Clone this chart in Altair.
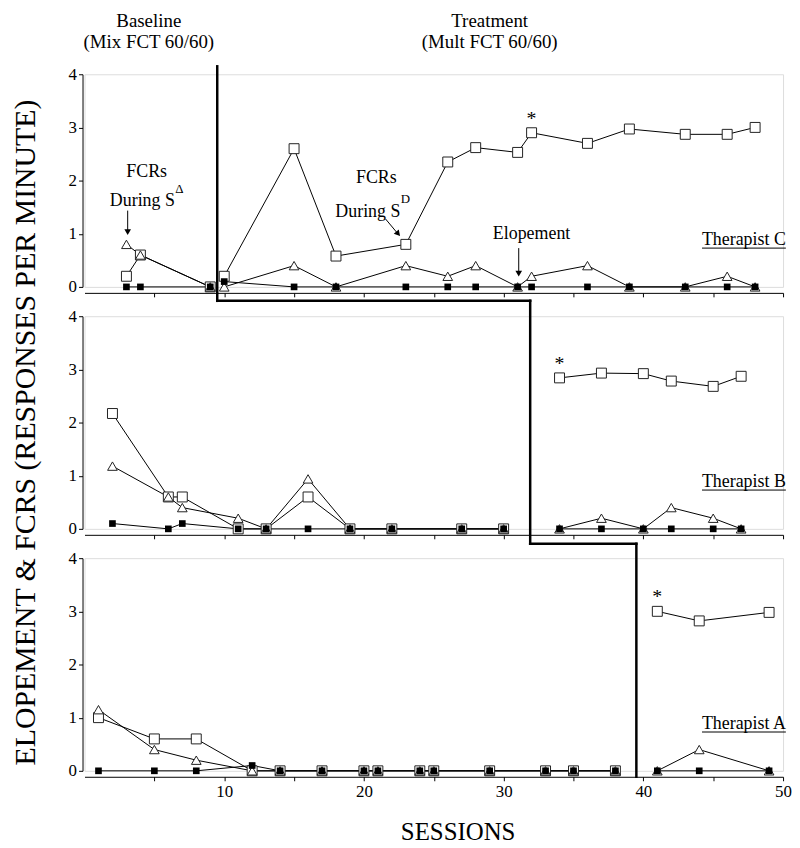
import altair as alt
import pandas as pd

# ---------------- data ----------------
# Therapist C
C_base_sessions = [3, 4, 9]
C_base_sd = [0.2, 0.6, 0.0]
C_base_sdelta = [0.8, 0.6, 0.0]
C_base_elope = [0.0, 0.0, 0.0]
C_treat_sessions = [10, 15, 18, 23, 26, 28, 31, 32, 36, 39, 43, 46, 48]
C_treat_sd = [0.2, 2.6, 0.58, 0.8, 2.35, 2.62, 2.53, 2.9, 2.7, 2.97, 2.87, 2.87, 3.0]
C_treat_sdelta = [0.0, 0.4, 0.0, 0.4, 0.2, 0.4, 0.0, 0.2, 0.4, 0.0, 0.0, 0.2, 0.0]
C_treat_elope = [0.1, 0.0, 0.0, 0.0, 0.0, 0.0, 0.0, 0.0, 0.0, 0.0, 0.0, 0.0, 0.0]

# Therapist B
B_base_sessions = [2, 6, 7, 11, 13, 16, 19, 22, 27, 30]
B_base_sd = [2.17, 0.6, 0.6, 0.0, 0.0, 0.6, 0.0, 0.0, 0.0, 0.0]
B_base_sdelta = [1.18, 0.6, 0.4, 0.2, 0.0, 0.94, 0.0, 0.0, 0.0, 0.0]
B_base_elope = [0.1, 0.0, 0.1, 0.0, 0.0, 0.0, 0.0, 0.0, 0.0, 0.0]
B_treat_sessions = [34, 37, 40, 42, 45, 47]
B_treat_sd = [2.84, 2.93, 2.92, 2.78, 2.68, 2.87]
B_treat_sdelta = [0.0, 0.2, 0.0, 0.4, 0.2, 0.0]
B_treat_elope = [0.0, 0.0, 0.0, 0.0, 0.0, 0.0]

# Therapist A
A_base_sessions = [1, 5, 8, 12, 14, 17, 20, 21, 24, 25, 29, 33, 35, 38]
A_base_sd = [1.0, 0.6, 0.6, 0.0, 0.0, 0.0, 0.0, 0.0, 0.0, 0.0, 0.0, 0.0, 0.0, 0.0]
A_base_sdelta = [1.15, 0.4, 0.2, 0.0, 0.0, 0.0, 0.0, 0.0, 0.0, 0.0, 0.0, 0.0, 0.0, 0.0]
A_base_elope = [0.0, 0.0, 0.0, 0.1, 0.0, 0.0, 0.0, 0.0, 0.0, 0.0, 0.0, 0.0, 0.0, 0.0]
A_treat_sessions = [41, 44, 49]
A_treat_sd = [3.0, 2.82, 2.98]
A_treat_sdelta = [0.0, 0.4, 0.0]
A_treat_elope = [0.0, 0.0, 0.0]

phase_change = {"C": 9.5, "B": 31.9, "A": 39.5}
first_treat_point = {"C": (32, 2.9), "B": (34, 2.84), "A": (41, 3.0)}
therapist_names = {"C": "Therapist C", "B": "Therapist B", "A": "Therapist A"}

tables = {
    "C": [("base", C_base_sessions, C_base_sd, C_base_sdelta, C_base_elope),
          ("treat", C_treat_sessions, C_treat_sd, C_treat_sdelta, C_treat_elope)],
    "B": [("base", B_base_sessions, B_base_sd, B_base_sdelta, B_base_elope),
          ("treat", B_treat_sessions, B_treat_sd, B_treat_sdelta, B_treat_elope)],
    "A": [("base", A_base_sessions, A_base_sd, A_base_sdelta, A_base_elope),
          ("treat", A_treat_sessions, A_treat_sd, A_treat_sdelta, A_treat_elope)],
}

rows = []
for t, phases in tables.items():
    for ph, ss, sd, sdel, el in phases:
        for series, vals in (("sd", sd), ("sdelta", sdel), ("elope", el)):
            for s, v in zip(ss, vals):
                rows.append({"therapist": t, "phase": ph, "series": series,
                             "seg": series + "_" + ph, "session": s, "value": v})
df = pd.DataFrame(rows)

# ---------------- styling ----------------
FONT = "Liberation Serif"
W, H, GAP = 703, 214, 29.5

xscale = alt.Scale(domain=[0, 50], nice=False, zero=False)
yscale = alt.Scale(domain=[0, 4], nice=False)

yaxis = alt.Axis(values=[0, 1, 2, 3, 4], title=None, grid=False, offset=2, tickSize=4,
                 labelPadding=2, labelFont=FONT, labelFontSize=17, labelColor="black",
                 domainColor="black", tickColor="black")


def xaxis(show_labels):
    return alt.Axis(values=list(range(5, 51, 5)), labels=show_labels,
                    labelExpr="datum.value % 10 == 0 ? datum.label : ''",
                    title=None, grid=False, offset=6, tickSize=4, labelPadding=3,
                    labelFont=FONT, labelFontSize=17, labelColor="black",
                    domainColor="black", tickColor="black", labelFlush=False)


def panel(t, bottom, top_ext, bot_ext, next_phase):
    X = alt.X("session:Q", scale=xscale, axis=xaxis(bottom))
    Y = alt.Y("value:Q", scale=yscale, axis=yaxis)
    base = alt.Chart(df[df.therapist == t])

    lines = base.mark_line(color="black", strokeWidth=1).encode(x=X, y=Y, detail="seg:N")
    sq = base.transform_filter("datum.series == 'sd'").mark_point(
        shape="square", filled=True, fill="white", stroke="#222", strokeWidth=1,
        size=100, opacity=1).encode(x=X, y=Y)
    tri = base.transform_filter("datum.series == 'sdelta'").mark_point(
        shape="triangle-up", filled=True, fill="white", stroke="#222", strokeWidth=1,
        size=95, opacity=1).encode(x=X, y=Y)
    el = base.transform_filter("datum.series == 'elope'").mark_point(
        shape="square", filled=True, color="black", size=45, opacity=1).encode(x=X, y=Y)

    layers = [lines, sq, tri, el]

    # phase-change line
    ph = phase_change[t]
    layers.append(alt.Chart(pd.DataFrame({"session": [ph]})).mark_rule(
        color="black", strokeWidth=2.5, strokeCap="square").encode(
        x=X, y=alt.value(top_ext), y2=alt.value(H + bot_ext)))
    if next_phase is not None:
        layers.append(alt.Chart(pd.DataFrame({"session": [ph], "session2": [next_phase]})).mark_rule(
            color="black", strokeWidth=2.5, strokeCap="square").encode(
            x=X, x2="session2:Q", y=alt.value(H + bot_ext)))

    # therapist label with underline
    layers.append(alt.Chart(pd.DataFrame({"session": [50.2], "value": [0.78],
                                          "label": [therapist_names[t]]})).mark_text(
        font=FONT, fontSize=18, align="right", baseline="alphabetic", color="black").encode(
        x=X, y=Y, text="label:N"))
    layers.append(alt.Chart(pd.DataFrame({"session": [44.2], "session2": [50.2],
                                          "value": [0.73]})).mark_rule(
        color="black", strokeWidth=1).encode(x=X, x2="session2:Q", y=Y))

    # asterisk above first treatment point
    s0, v0 = first_treat_point[t]
    layers.append(alt.Chart(pd.DataFrame({"session": [s0], "value": [v0], "label": ["*"]})).mark_text(
        font=FONT, fontSize=20, align="center", baseline="alphabetic", color="black", dy=-8).encode(
        x=X, y=Y, text="label:N"))

    return layers, X, Y


# ---- Therapist C panel (top) ----
layersC, XC, YC = panel("C", False, -8, 14, phase_change["B"])

ann_text = pd.DataFrame({
    "session": [4.45, 6.47, 20.89, 22.61, 32.0],
    "value": [2.06, 1.53, 1.95, 1.31, 0.906],
    "label": ["FCRs", "During S", "FCRs", "During S", "Elopement"],
    "align": ["center", "right", "center", "right", "center"],
})
for al in ("center", "right"):
    sub = ann_text[ann_text["align"] == al]
    layersC.append(alt.Chart(sub).mark_text(font=FONT, fontSize=18, align=al,
                                            baseline="alphabetic", color="black").encode(
        x=XC, y=YC, text="label:N"))
sup_text = pd.DataFrame({"session": [6.5, 22.63], "value": [1.76, 1.58], "label": ["Δ", "D"]})
layersC.append(alt.Chart(sup_text).mark_text(font=FONT, fontSize=13, align="left",
                                             baseline="alphabetic", color="black").encode(
    x=XC, y=YC, text="label:N"))

# arrows: shafts + heads
arrow_shafts = pd.DataFrame({"session": [3.09, 21.54, 31.08], "value": [1.435, 1.28, 0.73],
                             "session2": [3.09, 22.4, 31.08], "value2": [1.04, 1.01, 0.25]})
layersC.append(alt.Chart(arrow_shafts).mark_rule(color="black", strokeWidth=1).encode(
    x=XC, y=YC, x2="session2:Q", y2="value2:Q"))
arrow_heads = pd.DataFrame({"session": [3.09, 22.45, 31.08], "value": [1.03, 1.0, 0.25],
                            "ang": [0, 319, 0]})
layersC.append(alt.Chart(arrow_heads).mark_point(shape="triangle-down", filled=True, color="black",
                                                 size=45, opacity=1).encode(
    x=XC, y=YC, angle=alt.Angle("ang:Q", scale=None)))

# phase titles above
phase_titles = pd.DataFrame({"session": [4.6, 4.6, 29.0, 29.0],
                             "line": [1, 2, 1, 2],
                             "label": ["Baseline", "(Mix FCT 60/60)", "Treatment", "(Mult FCT 60/60)"]})
layersC.append(alt.Chart(phase_titles[phase_titles.line == 1]).mark_text(
    font=FONT, fontSize=19, align="center", baseline="alphabetic", color="black").encode(
    x=XC, y=alt.value(-48), text="label:N"))
layersC.append(alt.Chart(phase_titles[phase_titles.line == 2]).mark_text(
    font=FONT, fontSize=19, align="center", baseline="alphabetic", color="black").encode(
    x=XC, y=alt.value(-26), text="label:N"))

# ---- Therapist B panel (middle) ----
layersB, XB, YB = panel("B", False, 14 - GAP, 15, phase_change["A"])
layersB.append(alt.Chart(pd.DataFrame({"label": ["ELOPEMENT & FCRS (RESPONSES PER MINUTE)"]})).mark_text(
    font=FONT, fontSize=30, align="center", baseline="middle", angle=270, color="black").encode(
    x=alt.value(-59), y=alt.value(117), text="label:N"))

# ---- Therapist A panel (bottom) ----
layersA, XA, YA = panel("A", True, 15 - GAP, 6, None)
layersA.append(alt.Chart(pd.DataFrame({"label": ["SESSIONS"]})).mark_text(
    font=FONT, fontSize=25, align="center", baseline="alphabetic", color="black").encode(
    x=alt.value(376), y=alt.value(284), text="label:N"))

pC = alt.layer(*layersC).properties(width=W, height=H)
pB = alt.layer(*layersB).properties(width=W, height=H)
pA = alt.layer(*layersA).properties(width=W, height=H)

chart = alt.vconcat(pC, pB, pA, spacing=GAP, bounds="flush").properties(
    padding={"left": 2, "top": 0, "right": 0, "bottom": 0}
).configure_view(stroke="transparent").configure(background="white")

chart.save("out.html", embed_options={"renderer": "svg", "actions": False})
